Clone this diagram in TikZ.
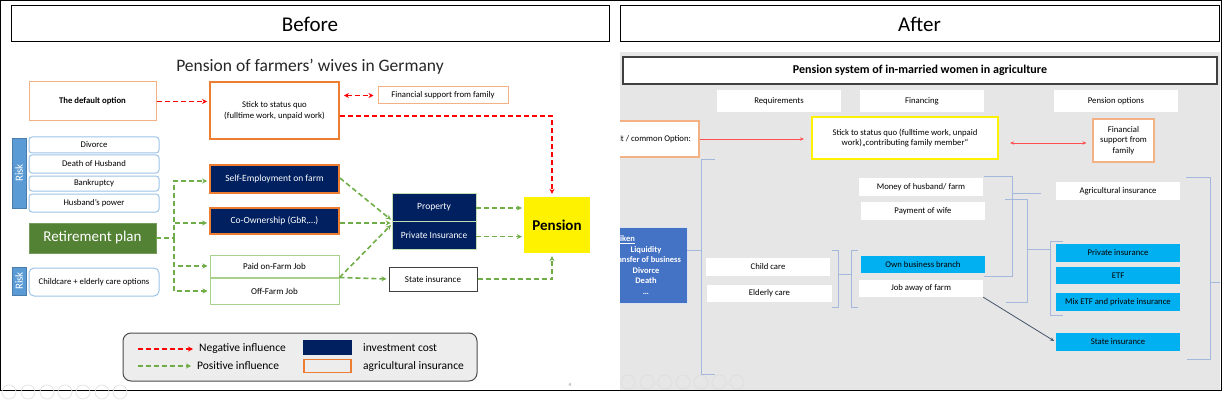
\documentclass[tikz,border=0pt]{standalone}
\usepackage{fontspec}
\setmainfont{Carlito}
\usepackage{xcolor}
\usepackage{tikz}
\usetikzlibrary{arrows.meta, positioning}

\definecolor{navy}{HTML}{002060}
\definecolor{agriorange}{HTML}{ED7D31}
\definecolor{peach}{HTML}{F4B183}
\definecolor{riskblue}{HTML}{5B9BD5}
\definecolor{riskline}{HTML}{9DC3E6}
\definecolor{plangreen}{HTML}{548235}
\definecolor{posgreen}{HTML}{70AD47}
\definecolor{jobgreen}{HTML}{A9D18E}
\definecolor{legendgray}{HTML}{EDEDED}
\definecolor{slidegray}{HTML}{E7E6E6}
\definecolor{skyblue}{HTML}{00B0F0}
\definecolor{boxblue}{HTML}{4472C4}
\definecolor{brkblue}{HTML}{A4B8DC}
\definecolor{softred}{HTML}{FF5050}
\definecolor{arrowslate}{HTML}{44546A}
\definecolor{navcircle}{HTML}{E2E2E2}

\begin{document}
\begin{tikzpicture}[
        x=1pt, y=-1pt,
        >={Stealth[length=5pt, width=5pt]},
        txt/.style={font=\fontsize{8.7}{10.5}\selectfont},
        box/.style={
            rectangle,
            draw,
            inner sep=1pt,
            align=center,
            txt
        },
        header/.style={box, line width=1pt, font=\fontsize{21}{24}\selectfont,
            minimum width=598pt, minimum height=36pt},
        agri/.style={box, draw=agriorange, line width=1.8pt, fill=white},
        soft/.style={box, draw=peach, line width=1pt, fill=white},
        invest/.style={box, fill=navy, text=white, draw=jobgreen!70!white,
            line width=0.6pt, font=\fontsize{9.5}{11}\selectfont},
        riskitem/.style={box, draw=riskline, line width=1pt, rounded corners=3pt,
            minimum width=130pt},
        risklabel/.style={rectangle, fill=riskblue, draw=riskblue!80!black,
            line width=0.6pt, text=white, rotate=90, inner sep=0pt,
            font=\fontsize{11}{13}\selectfont},
        job/.style={box, draw=jobgreen, line width=1pt, minimum width=129pt,
            font=\fontsize{9}{11}\selectfont},
        negline/.style={draw=red, line width=1.6pt, dash pattern=on 5pt off 3pt},
        posline/.style={draw=posgreen, line width=1.6pt, dash pattern=on 5pt off 3pt},
        legendtxt/.style={inner sep=1pt, font=\fontsize{11.5}{13}\selectfont},
        cell/.style={rectangle, fill=white, inner sep=1pt, align=center, txt,
            minimum width=124pt, minimum height=18pt},
        pick/.style={cell, fill=skyblue},
        brk/.style={draw=brkblue, line width=0.9pt},
        navc/.style={draw=navcircle, line width=0.7pt}
    ]
    \useasboundingbox (0,0) rectangle (1229,401);

    % Frame
    \draw[line width=1pt] (0.5,0.5) rectangle (1221,390.5);
    \node[header] (before) at (310,24) {Before};
    \node[header, minimum width=599pt] (after) at (919.5,24) {After};

    %% ---------------- Before ----------------
    \node[font=\fontsize{17.5}{20}\selectfont, text=black!85] (title) at (310,67)
        {Pension of farmers’ wives in Germany};

    % Nodes
    \node[soft, minimum width=127pt, minimum height=39pt, font=\bfseries\fontsize{8.7}{10.5}\selectfont]
        (default) at (92.5,101.5) {The default option};
    \node[agri, minimum width=129pt, minimum height=57pt] (stick) at (274.5,110.5)
        {Stick to status quo\\(fulltime work, unpaid work)};
    \node[soft, minimum width=130pt, minimum height=17pt] (family) at (443,95.5)
        {Financial support from family};
    \node[box, draw=none, fill=yellow, minimum width=66pt, minimum height=56pt,
        font=\bfseries\fontsize{15}{17}\selectfont] (pension) at (557,225) {Pension};

    \node[risklabel, minimum width=70pt, minimum height=14pt] (risk) at (19,173) {Risk};
    \node[riskitem, minimum height=16pt] (divorce) at (94,145) {Divorce};
    \node[riskitem, minimum height=18pt, below=1pt of divorce] (death) {Death of Husband};
    \node[riskitem, minimum height=15pt, below=2pt of death] (bankrupt) {Bankruptcy};
    \node[riskitem, minimum height=18pt, below=2pt of bankrupt] (power) {Husband’s power};

    \node[box, draw=plangreen!80!white, fill=plangreen, text=white, minimum width=127pt,
        minimum height=30pt, font=\fontsize{15}{17}\selectfont] (retire) at (92.5,238)
        {Retirement plan};
    \node[risklabel, minimum width=28pt, minimum height=14pt] (risktwo) at (19,281) {Risk};
    \node[riskitem, minimum height=28pt, rounded corners=5pt] (care) at (94,282)
        {Childcare + elderly care options};

    \node[invest, draw=agriorange, line width=1.8pt, minimum width=129pt, minimum height=28pt]
        (selfemp) at (274.5,179) {Self-Employment on farm};
    \node[invest, draw=agriorange, line width=1.8pt, minimum width=129pt, minimum height=26pt]
        (coown) at (274.5,221) {Co-Ownership (GbR,…)};
    \node[job, minimum height=22pt] (paidjob) at (274.5,266) {Paid on-Farm Job};
    \node[job, minimum height=26pt, below=0pt of paidjob] (offjob) {Off-Farm Job};

    \node[invest, minimum width=84pt, minimum height=28pt] (property) at (434,207) {Property};
    \node[invest, minimum width=84pt, minimum height=28pt, below=0pt of property]
        (privins) {Private Insurance};
    \node[box, draw=black!75, line width=1pt, minimum width=88pt, minimum height=24pt,
        font=\fontsize{9}{11}\selectfont] (stateins) at (433,279) {State insurance};

    % Negative arrows
    \draw[negline, ->, shorten >=2pt] (default.east) -- (default.east -| stick.west);
    \draw[negline, <->, shorten <=4pt, shorten >=4pt] (stick.east |- family.west) -- (family.west);
    \draw[negline, ->, shorten >=3pt] ([yshift=-5.5pt]stick.east) -| ([xshift=-5pt]pension.north);

    % Positive arrows
    \coordinate (fork) at (174,238);
    \draw[posline] (retire.east) -- (fork);
    \draw[posline, ->, shorten >=2pt] (fork) |- ([yshift=-2pt]selfemp.west);
    \draw[posline, ->, shorten >=2pt] (fork) |- ([yshift=-2pt]coown.west);
    \draw[posline, ->, shorten >=2pt] (fork) |- (paidjob.west);
    \draw[posline, ->, shorten >=2pt] (fork) |- (offjob.west);

    \draw[posline, ->, shorten >=1pt] ([yshift=1pt]selfemp.east) -- ([yshift=1pt]property.south west);
    \draw[posline, ->, shorten >=1pt] ([yshift=-2pt]coown.east) -- ([yshift=-2pt]coown.east -| privins.west);
    \draw[posline, ->, shorten >=1pt] (paidjob.south east) -- ([yshift=-3pt]property.south west);
    \draw[posline, ->, shorten >=2pt] (paidjob.south east) -- (stateins.west);
    \draw[posline, ->, shorten >=2pt] ([yshift=-1pt]property.east) -- ([yshift=-1pt]property.east -| pension.west);
    \draw[posline, ->, shorten >=2pt] ([yshift=-1pt]privins.east) -- ([yshift=-1pt]privins.east -| pension.west);
    \draw[posline, ->, shorten >=3pt] (stateins.east) -| ([xshift=-5pt]pension.south);

    % Legend
    \node[draw=black!70, fill=legendgray, rounded corners=8pt, line width=1pt,
        minimum width=354pt, minimum height=48pt] (legend) at (300,357) {};
    \coordinate (negA) at (138,349);
    \coordinate (negB) at (193,349);
    \coordinate (posA) at (138,366);
    \coordinate (posB) at (191,366);
    \draw[negline, ->] (negA) -- (negB);
    \draw[posline, ->] (posA) -- (posB);
    \node[legendtxt, anchor=west] (negtxt) at (198,349) {Negative influence};
    \node[legendtxt, anchor=west] (postxt) at (196,366) {Positive influence};
    \node[rectangle, fill=navy, minimum width=49pt, minimum height=15pt] (keyinv) at (327.5,347.5) {};
    \node[rectangle, draw=agriorange, line width=1.8pt, minimum width=47pt, minimum height=13pt]
        (keyagri) at (327.5,366) {};
    \node[legendtxt, anchor=west] (invtxt) at (362,347.5) {investment cost};
    \node[legendtxt, anchor=west] (agritxt) at (362,366) {agricultural insurance};

    \node[font=\fontsize{5}{6}\selectfont, text=black!50] (pageno) at (570,385) {4};
    \foreach \cx in {9,28,47,65,83,102,120}
        \draw[navc] (\cx,392) circle (7pt);

    %% ---------------- After ----------------
    \begin{scope}
    \clip (620,52) rectangle (1220,390);
    \fill[slidegray] (620,52) rectangle (1220,390);

    \node[cell, draw=peach, line width=1.2pt, minimum width=109pt, minimum height=36pt]
        (option) at (644.5,139) {\phantom{Defau}lt / common Option:};
    \node[rectangle, fill=boxblue, draw=white!80!boxblue, text=white, align=center,
        minimum width=82pt, minimum height=76pt, inner sep=0pt,
        font=\bfseries\fontsize{8.5}{10.5}\selectfont] (riskbox) at (646,265)
        {\underline{iken}\hspace*{37pt}\\Liquidity\\\phantom{Tr}ansfer of business\\Divorce\\Death\\…};

    \foreach \cx in {628,647,665,683,701,719,737}
        \draw[navc, draw=black!13] (\cx,382) circle (7pt);
    \end{scope}

    \node[cell, draw=black!75, line width=1.2pt, minimum width=594pt, minimum height=27pt,
        font=\bfseries\fontsize{12}{14}\selectfont] (system) at (920,70.5)
        {Pension system of in-married women in agriculture};

    \node[cell, minimum height=22pt] (require) at (779,101) {Requirements};
    \node[cell, minimum height=22pt] (finance) at (922,101) {Financing};
    \node[cell, minimum height=22pt] (options) at (1116,101) {Pension options};

    \node[cell, draw=yellow, line width=2.2pt, minimum width=186pt, minimum height=42pt]
        (stickq) at (905,138)
        {Stick to status quo (fulltime work, unpaid\\work)„contributing family member“};
    \node[cell, draw=peach, line width=1.2pt, minimum width=61pt, minimum height=43pt]
        (support) at (1123.5,140.5) {Financial\\support from\\family};

    \node[cell] (child) at (768,267) {Child care};
    \node[cell, minimum width=125pt, minimum height=17pt] (elderly) at (769.5,293.5) {Elderly care};
    \node[cell] (money) at (921,187) {Money of husband/ farm};
    \node[cell] (payment) at (923,211) {Payment of wife};
    \node[pick, minimum height=17pt] (ownbiz) at (923,264.5) {Own business branch};
    \node[cell, minimum height=17pt] (jobaway) at (921,288.5) {Job away of farm};

    \node[cell] (agrins) at (1118,191) {Agricultural insurance};
    \node[pick] (private) at (1118,253) {Private insurance};
    \node[pick, minimum height=17pt, below=5pt of private] (etf) {ETF};
    \node[pick, below=8pt of etf] (mix) {Mix ETF and private insurance};
    \node[pick] (state) at (1118,342) {State insurance};

    % Arrows
    \draw[softred, line width=0.9pt, -{Stealth[length=4pt, width=3.5pt]}, shorten >=7pt]
        (option.east) -- (option.east -| stickq.west);
    \draw[softred, line width=0.9pt, {Stealth[length=4pt, width=3.5pt]}-{Stealth[length=4pt, width=3.5pt]},
        shorten <=11pt, shorten >=6pt] (stickq.east |- 0,143) -- (support.west |- 0,143);
    \draw[arrowslate, line width=0.8pt, -{Stealth[length=4pt, width=3.5pt]}, shorten >=2pt]
        (jobaway.south east) -- (state.west);

    % Brackets
    \draw[brk] (715,159) -- (701,159) -- (701,374) -- (715,374);
    \draw[brk] (riskbox.east |- 0,250) -- (701,250);
    \draw[brk] (832,250) -- (838,250) -- (838,307) -- (832,307);
    \draw[brk] (838,274) -- (851,274);
    \draw[brk] (858,250) -- (851,250) -- (851,307) -- (858,307);
    \draw[brk] (984,176) -- (1012,176) -- (1012,276) -- (984,276);
    \draw[brk] (1012,193) -- (1041,193);
    \draw[brk] (1005,199) -- (1027,199) -- (1027,302) -- (1006,302);
    \draw[brk] (1027,249) -- (1050,249);
    \draw[brk] (1063,241) -- (1050,241) -- (1050,315) -- (1063,315);
    \draw[brk] (1186,177) -- (1210,177) -- (1210,359) -- (1187,359);
    \draw[brk] (1210,282) -- (1220,282);

\end{tikzpicture}
\end{document}
